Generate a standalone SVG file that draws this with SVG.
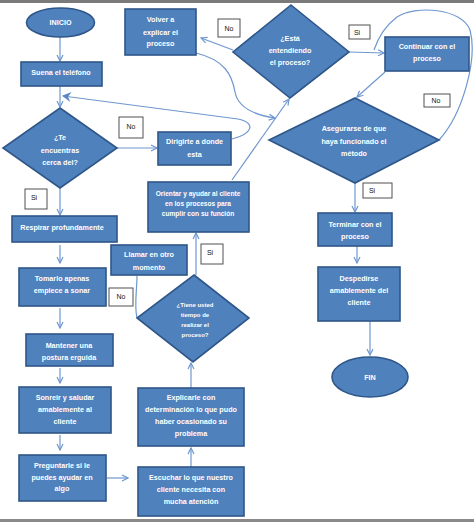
<svg xmlns="http://www.w3.org/2000/svg" width="474" height="522" viewBox="0 0 474 522">
<defs>
<style>
.n{fill:#4f81bd;stroke:#2f5688;stroke-width:1.6}
.t{font-family:"Liberation Sans",Arial,sans-serif;font-weight:bold;font-size:7.2px;fill:#ffffff;text-anchor:middle}
.s{font-size:6.6px}
.xs{font-size:6px}
.c{fill:none;stroke:#6f97cf;stroke-width:1.2}
.lb{fill:#ffffff;stroke:#505050;stroke-width:1}
.lt{font-family:"Liberation Sans",Arial,sans-serif;font-size:7px;fill:#111;text-anchor:middle}
</style>
<marker id="a" viewBox="0 0 8 8" refX="7" refY="4" markerWidth="8" markerHeight="8" markerUnits="userSpaceOnUse" orient="auto">
<path d="M1,1 L7,4 L1,7" fill="none" stroke="#6f97cf" stroke-width="1.2"/>
</marker>
<marker id="b" viewBox="0 0 10 10" refX="8" refY="5" markerWidth="10" markerHeight="10" markerUnits="userSpaceOnUse" orient="auto">
<path d="M0,0 L9,5 L0,10 L3,5 Z" fill="#5b87c5"/>
</marker>
</defs>
<rect x="0" y="0" width="474" height="522" fill="#ffffff"/>
<rect x="0" y="0" width="474" height="3" fill="#7a7a7a"/>
<rect x="0" y="519" width="474" height="3" fill="#8a8a8a"/>

<g id="connectors">
<path class="c" d="M60,37 L60,61" marker-end="url(#a)"/>
<path class="c" d="M60,86 L60,107" marker-end="url(#a)"/>
<path class="c" d="M117,148 L157,148" marker-end="url(#a)"/>
<path class="c" d="M60,188 L60,215" marker-end="url(#a)"/>
<path class="c" d="M60,245 L60,263" marker-end="url(#a)"/>
<path class="c" d="M60,308 L60,328" marker-end="url(#a)"/>
<path class="c" d="M60,368 L60,383" marker-end="url(#a)"/>
<path class="c" d="M60,435 L60,450" marker-end="url(#a)"/>
<path class="c" d="M107,478 L128,478" marker-end="url(#a)"/>
<path class="c" d="M191,467 L191,448" marker-end="url(#a)"/>
<path class="c" d="M191,388 L191,363" marker-end="url(#a)"/>
<path class="c" d="M196,275 L196,233" marker-end="url(#a)"/>
<path class="c" d="M137,318 C134,305 137,290 137,276"/>
<path class="c" d="M232,180 L289,99" marker-end="url(#a)"/>
<path class="c" d="M232,139 C252,134 257,123 238,119 L63,96" marker-end="url(#b)"/>
<path class="c" d="M196,53 C225,60 232,75 235,92 C238,108 255,115 275,118" marker-end="url(#a)"/>
<path class="c" d="M233,50 L201,38" marker-end="url(#a)"/>
<path class="c" d="M349,52 L384,53" marker-end="url(#a)"/>
<path class="c" d="M385,72 L357,97" marker-end="url(#a)"/>
<path class="c" d="M439,140 C462,115 478,60 470,30 C462,8 415,5 397,17 C385,26 378,38 374,50"/>
<path class="c" d="M355,183 L355,212" marker-end="url(#a)"/>
<path class="c" d="M357,246 L357,263" marker-end="url(#a)"/>
<path class="c" d="M370,321 L370,355" marker-end="url(#a)"/>
</g>

<g id="labels">
<rect class="lb" x="218" y="19" width="22" height="18"/><text class="lt" x="229" y="31">No</text>
<rect class="lb" x="349" y="25" width="21" height="14"/><text class="lt" x="357" y="35">Si</text>
<rect class="lb" x="424" y="94" width="26" height="13"/><text class="lt" x="436" y="103">No</text>
<rect class="lb" x="119" y="117" width="24" height="21"/><text class="lt" x="131" y="129">No</text>
<rect class="lb" x="363" y="183" width="29" height="15"/><text class="lt" x="372" y="193">Si</text>
<rect class="lb" x="25" y="189" width="22" height="20"/><text class="lt" x="34" y="200">Si</text>
<rect class="lb" x="201" y="244" width="22" height="20"/><text class="lt" x="210" y="255">Si</text>
<rect class="lb" x="109" y="288" width="24" height="18"/><text class="lt" x="121" y="299">No</text>
</g>

<g id="inicio"><ellipse class="n" cx="60.5" cy="22.5" rx="34" ry="14.5"/><text class="t" x="60.5" y="25">INICIO</text></g>

<g id="volver"><rect class="n" x="125" y="9" width="71" height="46"/>
<text class="t" x="160.5" y="21.5">Volver a</text><text class="t" x="160.5" y="34.5">explicar el</text><text class="t" x="160.5" y="46">proceso</text></g>

<g id="esta"><polygon class="n" points="291,5 349,52 290,98 233,52"/>
<text class="t" x="290" y="40.5">¿Está</text><text class="t" x="290" y="52.5">entendiendo</text><text class="t" x="290" y="64.5">el proceso?</text></g>

<g id="continuar"><rect class="n" x="385" y="37" width="84" height="34"/>
<text class="t" x="427" y="48.5">Continuar con el</text><text class="t" x="427" y="60.5">proceso</text></g>

<g id="suena"><rect class="n" x="21" y="62" width="81" height="24"/>
<text class="t" x="61" y="74.5">Suena el teléfono</text></g>

<g id="cerca"><polygon class="n" points="60,108 117,148 60,188 3,148"/>
<text class="t" x="60" y="139.5">¿Te</text><text class="t" x="60" y="152.5">encuentras</text><text class="t" x="60" y="164.5">cerca del?</text></g>

<g id="dirigirte"><rect class="n" x="158" y="132" width="73" height="33"/>
<text class="t" x="194.5" y="143.5">Dirigirte a donde</text><text class="t" x="194.5" y="156.5">esta</text></g>

<g id="asegurarse"><polygon class="n" points="355,98 439,140 355,183 269,140"/>
<text class="t" x="354" y="130.5">Asegurarse de que</text><text class="t" x="354" y="143.5">haya funcionado el</text><text class="t" x="354" y="155.5">método</text></g>

<g id="orientar"><rect class="n" x="148" y="182" width="101" height="50"/>
<text class="t s" x="198" y="195.5">Orientar y ayudar al cliente</text><text class="t s" x="198" y="205.5">en los procesos para</text><text class="t s" x="198" y="215.5">cumplir con su función</text></g>

<g id="terminar"><rect class="n" x="318" y="213" width="74" height="33"/>
<text class="t" x="355" y="226.5">Terminar con el</text><text class="t" x="355" y="238.5">proceso</text></g>

<g id="respirar"><rect class="n" x="12" y="216" width="105" height="26"/>
<text class="t" x="62" y="229.5">Respirar profundamente</text></g>

<g id="llamar"><rect class="n" x="111" y="245" width="76" height="30"/>
<text class="t" x="149" y="256.5">Llamar en otro</text><text class="t" x="149" y="269.5">momento</text></g>

<g id="despedirse"><rect class="n" x="318" y="267" width="82" height="54"/>
<text class="t" x="359" y="280.5">Despedirse</text><text class="t" x="359" y="292.5">amablemente del</text><text class="t" x="359" y="304.5">cliente</text></g>

<g id="tomarlo"><rect class="n" x="19" y="268" width="87" height="38"/>
<text class="t" x="62" y="280.5">Tomarlo apenas</text><text class="t" x="62" y="292.5">empiece a sonar</text></g>

<g id="tiempo"><polygon class="n" points="194,275 249,318 193,362 137,318"/>
<text class="t xs" x="195" y="307">¿Tiene usted</text><text class="t xs" x="195" y="317">tiempo de</text><text class="t xs" x="195" y="327">realizar el</text><text class="t xs" x="195" y="336.5">proceso?</text></g>

<g id="mantener"><rect class="n" x="26" y="334" width="87" height="32"/>
<text class="t" x="69" y="347.5">Mantener una</text><text class="t" x="69" y="359.5">postura erguida</text></g>

<g id="fin"><ellipse class="n" cx="370" cy="377" rx="38" ry="20"/><text class="t" x="370" y="379.5">FIN</text></g>

<g id="sonreir"><rect class="n" x="19" y="387" width="92" height="46"/>
<text class="t" x="65" y="399.5">Sonreir y saludar</text><text class="t" x="65" y="411.5">amablemente al</text><text class="t" x="65" y="423.5">cliente</text></g>

<g id="explicarle"><rect class="n" x="138" y="388" width="106" height="58"/>
<text class="t" x="191" y="399.5">Explicarle con</text><text class="t" x="191" y="411.5">determinación lo que pudo</text><text class="t" x="191" y="423.5">haber ocasionado su</text><text class="t" x="191" y="435.5">problema</text></g>

<g id="preguntarle"><rect class="n" x="19" y="455" width="87" height="46"/>
<text class="t" x="62" y="467.5">Preguntarle si le</text><text class="t" x="62" y="479.5">puedes ayudar en</text><text class="t" x="62" y="491">algo</text></g>

<g id="escuchar"><rect class="n" x="138" y="467" width="106" height="49"/>
<text class="t" x="191" y="479.5">Escuchar lo que nuestro</text><text class="t" x="191" y="491.5">cliente necesita con</text><text class="t" x="191" y="503.5">mucha atención</text></g>
</svg>
